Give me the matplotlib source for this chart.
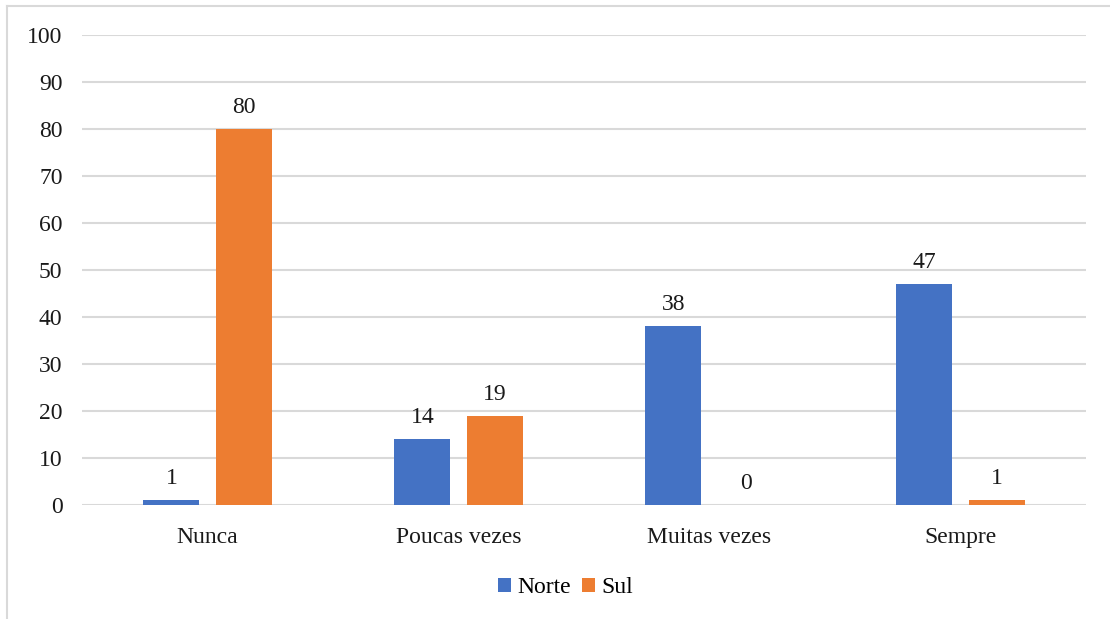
import matplotlib.pyplot as plt
import numpy as np

categories = ['Nunca', 'Poucas vezes', 'Muitas vezes', 'Sempre']
norte = [1, 14, 38, 47]
sul = [80, 19, 0, 1]
yticks = [0, 10, 20, 30, 40, 50, 60, 70, 80, 90, 100]

plt.rcParams['font.family'] = ['Liberation Serif', 'DejaVu Serif']

fig = plt.figure(figsize=(11.1, 6.19), dpi=100)
ax = fig.add_axes([82 / 1110, 1 - 505 / 619, 1004 / 1110, 470 / 619])

x = np.arange(len(categories))
width = 0.223
off = 0.1435
bars_n = ax.bar(x - off, norte, width, color='#4472C4', label='Norte', zorder=3)
bars_s = ax.bar(x + off, sul, width, color='#ED7D31', label='Sul', zorder=3)

# value labels above bars
for bars in (bars_n, bars_s):
    for b in bars:
        ax.annotate(f'{int(b.get_height())}', (b.get_x() + b.get_width() / 2, b.get_height()),
                    xytext=(0, 8), textcoords='offset points', ha='center', va='bottom',
                    fontsize=17, color='#1a1a1a')

ax.set_xlim(-0.5, 3.5)
ax.set_ylim(0, 100)
ax.set_yticks(yticks)
ax.set_xticks(x)
ax.set_xticklabels(categories)
ax.tick_params(axis='both', length=0, labelsize=17, colors='#1a1a1a')
ax.tick_params(axis='y', pad=14)
ax.tick_params(axis='x', pad=16)
ax.grid(axis='y', color='#d9d9d9', linewidth=1.5, zorder=0)
for s in ax.spines.values():
    s.set_visible(False)

ax.legend(loc='upper center', bbox_to_anchor=(0.4816, -0.108), ncol=2, frameon=False,
          fontsize=17, handlelength=0.55, handleheight=0.55, handletextpad=0.25,
          columnspacing=0.5)

# outer chart border (light gray)
fig.add_artist(plt.Line2D([7 / 1110, 7 / 1110], [0, 1 - 6 / 619], color='#d9d9d9', linewidth=1.5))
fig.add_artist(plt.Line2D([7 / 1110, 1], [1 - 6 / 619, 1 - 6 / 619], color='#d9d9d9', linewidth=1.5))

fig.savefig('out.png', dpi=100)
